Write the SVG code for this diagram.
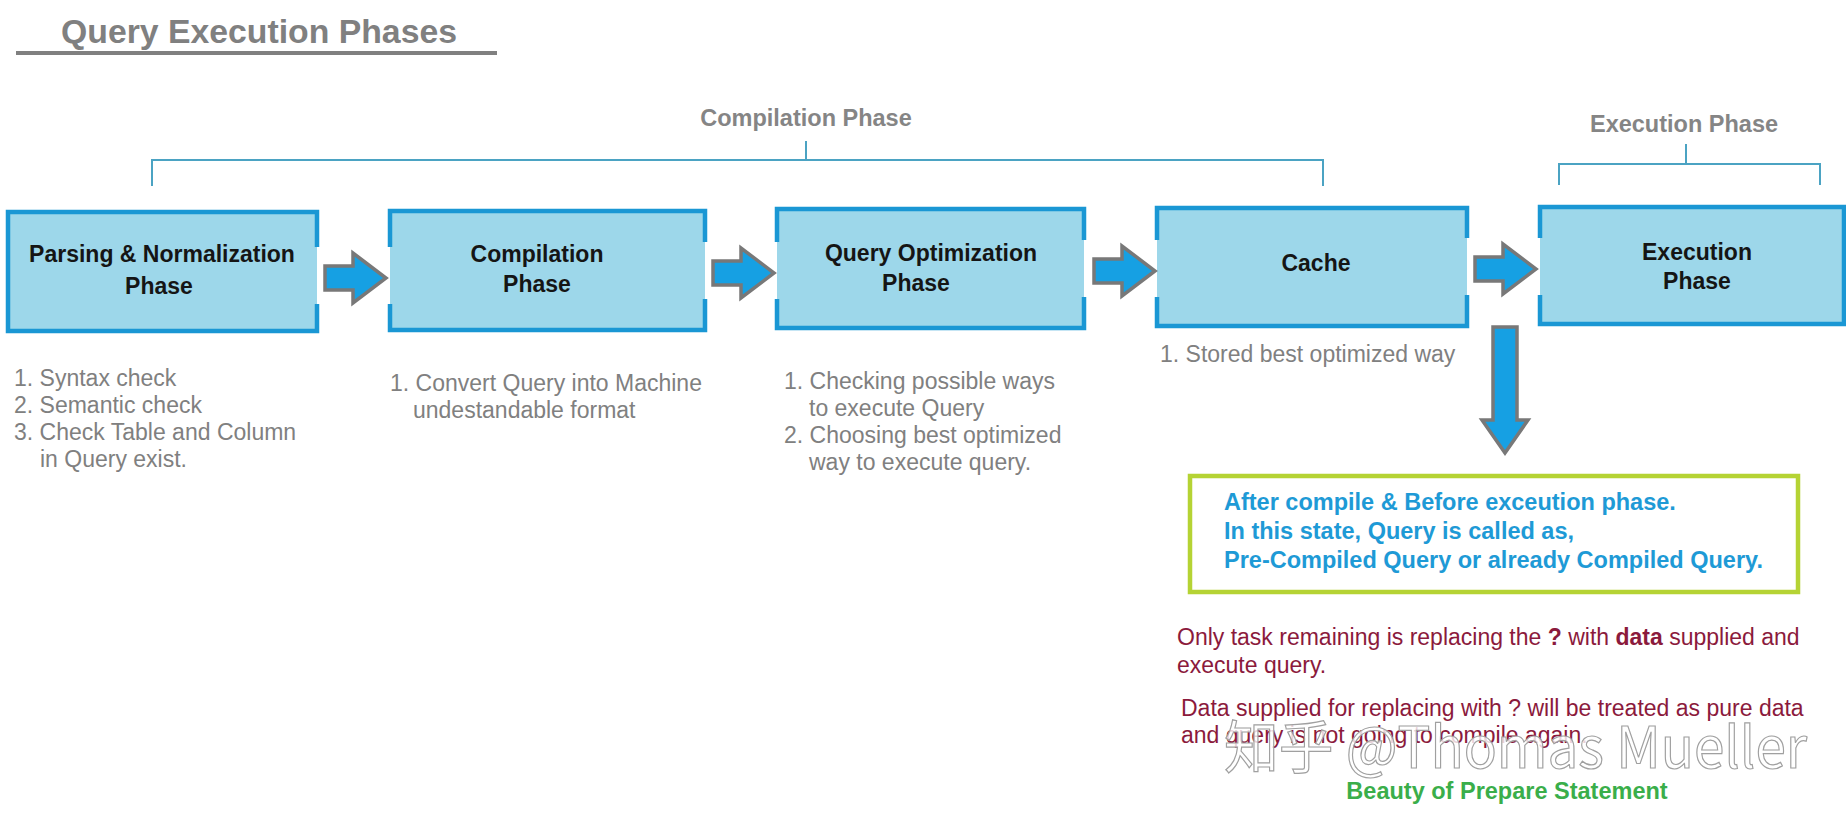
<svg xmlns="http://www.w3.org/2000/svg" width="1846" height="814" viewBox="0 0 1846 814">
<style>
.bg{fill:#ffffff}
.box{fill:#9dd7ea}
.border{fill:none;stroke:#1a97d4;stroke-width:4.5}
.lbl{font-family:"Liberation Sans",Arial,sans-serif;font-weight:bold;font-size:23px;fill:#151515;text-anchor:middle}
.desc{font-family:"Liberation Sans",Arial,sans-serif;font-size:23px;fill:#808080}
.hdr{font-family:"Liberation Sans",Arial,sans-serif;font-weight:bold;font-size:23.5px;fill:#858585;text-anchor:middle}
.brk{fill:none;stroke:#4ba3c3;stroke-width:2}
.arr{fill:#16a0e3;stroke:#787878;stroke-width:3.5;stroke-linejoin:miter}
.note{font-family:"Liberation Sans",Arial,sans-serif;font-weight:bold;font-size:23.5px;fill:#1e9ad6}
.red{font-family:"Liberation Sans",Arial,sans-serif;font-size:23px;fill:#8b1a3c}
</style>
<defs>
<path id="rarrow" d="M0,-12 H28 V-25 L61,0 L28,25 V12 H0 Z"/>
</defs>
<rect class="bg" x="0" y="0" width="1846" height="814"/>

<g id="title">
<text x="61" y="43" font-family="'Liberation Sans',Arial,sans-serif" font-weight="bold" font-size="34" fill="#808080" textLength="396" lengthAdjust="spacingAndGlyphs">Query Execution Phases</text>
<rect x="16" y="51" width="481" height="4" fill="#808080"/>
</g>

<g id="compilation-phase-bracket">
<text class="hdr" x="806" y="126">Compilation Phase</text>
<path class="brk" d="M806,141 V160 M152,186 V160 H1323 V186"/>
</g>

<g id="execution-phase-bracket">
<text class="hdr" x="1684" y="132">Execution Phase</text>
<path class="brk" d="M1686,144 V164 M1559,185 V164 H1820 V185"/>
</g>

<g id="node-parsing">
<rect class="box" x="8" y="212" width="309" height="119"/>
<path class="border" d="M317,247 V212 H8 V331 H317 V304"/>
<text class="lbl" x="162" y="262">Parsing &amp; Normalization</text>
<text class="lbl" x="159" y="294">Phase</text>
<text class="desc" x="14" y="386">1. Syntax check</text>
<text class="desc" x="14" y="413">2. Semantic check</text>
<text class="desc" x="14" y="440">3. Check Table and Column</text>
<text class="desc" x="40" y="467">in Query exist.</text>
</g>

<g id="node-compilation">
<rect class="box" x="390" y="211" width="315" height="119"/>
<path class="border" d="M390,247 V211 H705 V242 M705,299 V330 H390 V304"/>
<text class="lbl" x="537" y="262">Compilation</text>
<text class="lbl" x="537" y="292">Phase</text>
<text class="desc" x="390" y="391">1. Convert Query into Machine</text>
<text class="desc" x="413" y="418">undestandable format</text>
</g>

<g id="node-optimization">
<rect class="box" x="777" y="209" width="307" height="119"/>
<path class="border" d="M777,242 V209 H1084 V240 M1084,297 V328 H777 V299"/>
<text class="lbl" x="931" y="261">Query Optimization</text>
<text class="lbl" x="916" y="291">Phase</text>
<text class="desc" x="784" y="389">1. Checking possible ways</text>
<text class="desc" x="809" y="416">to execute Query</text>
<text class="desc" x="784" y="443">2. Choosing best optimized</text>
<text class="desc" x="809" y="470">way to execute query.</text>
</g>

<g id="node-cache">
<rect class="box" x="1157" y="208" width="310" height="118"/>
<path class="border" d="M1157,240 V208 H1467 V238 M1467,295 V326 H1157 V297"/>
<text class="lbl" x="1316" y="271">Cache</text>
<text class="desc" x="1160" y="362">1. Stored best optimized way</text>
</g>

<g id="node-execution">
<rect class="box" x="1540" y="207" width="305" height="117"/>
<path class="border" d="M1540,238 V207 H1844 V324 H1540 V295"/>
<text class="lbl" x="1697" y="260">Execution</text>
<text class="lbl" x="1697" y="289">Phase</text>
</g>

<g id="connectors">
<use href="#rarrow" class="arr" transform="translate(325,278)"/>
<use href="#rarrow" class="arr" transform="translate(713,273)"/>
<use href="#rarrow" class="arr" transform="translate(1094,271)"/>
<use href="#rarrow" class="arr" transform="translate(1475,269)"/>
<path class="arr" d="M1493,327 H1517 V420 H1528 L1505,453 L1482,420 H1493 Z"/>
</g>

<g id="precompiled-note">
<rect x="1190" y="476" width="608" height="116" fill="#ffffff" stroke="#b5d334" stroke-width="4.5"/>
<text class="note" x="1224" y="510">After compile &amp; Before exceution phase.</text>
<text class="note" x="1224" y="539">In this state, Query is called as,</text>
<text class="note" x="1224" y="568">Pre-Compiled Query or already Compiled Query.</text>
</g>

<g id="remarks">
<text class="red" x="1177" y="645">Only task remaining is replacing the <tspan font-weight="bold">?</tspan> with <tspan font-weight="bold">data</tspan> supplied and</text>
<text class="red" x="1177" y="673">execute query.</text>
<text class="red" x="1181" y="716">Data supplied for replacing with ? will be treated as pure data</text>
<text class="red" x="1181" y="743">and query is not going to compile again.</text>
<text x="1507" y="799" font-family="'Liberation Sans',Arial,sans-serif" font-weight="bold" font-size="23.5" fill="#3aae4a" text-anchor="middle">Beauty of Prepare Statement</text>
</g>

<g id="watermark">
<text x="1224" y="768" font-family="'Noto Sans CJK SC','Noto Sans',sans-serif" font-size="57" fill="#ffffff" fill-opacity="0.8" stroke="#a0a0a0" stroke-width="1.2" textLength="583" lengthAdjust="spacingAndGlyphs">知乎 @Thomas Mueller</text>
</g>
</svg>
